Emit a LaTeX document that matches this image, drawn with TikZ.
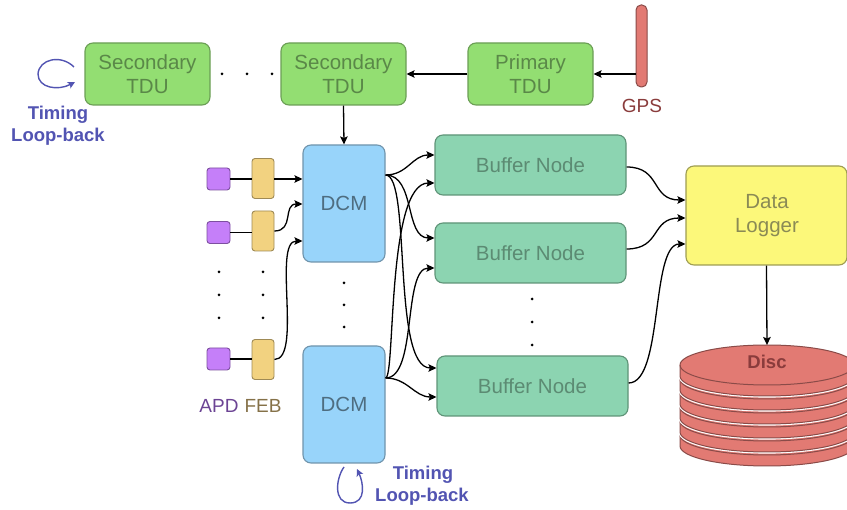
\documentclass[tikz,border=0pt]{standalone}
\usepackage{fontspec}
\setmainfont{Liberation Sans}
\usetikzlibrary{arrows.meta}
\definecolor{tdufill}{HTML}{93DE72}
\definecolor{tduborder}{HTML}{6B9E55}
\definecolor{tdutext}{HTML}{5A8848}
\definecolor{dcmfill}{HTML}{98D4FA}
\definecolor{dcmborder}{HTML}{7094AC}
\definecolor{dcmtext}{HTML}{4E6D80}
\definecolor{bnfill}{HTML}{8CD4B1}
\definecolor{bnborder}{HTML}{5F9478}
\definecolor{bntext}{HTML}{5C8B73}
\definecolor{dlfill}{HTML}{FCF87A}
\definecolor{dlborder}{HTML}{9E9D52}
\definecolor{dltext}{HTML}{8A8A55}
\definecolor{apdfill}{HTML}{C57FF9}
\definecolor{apdborder}{HTML}{7D4FA0}
\definecolor{febfill}{HTML}{F2D280}
\definecolor{febborder}{HTML}{9F8A55}
\definecolor{redfill}{HTML}{E27A73}
\definecolor{redborder}{HTML}{8A4B48}
\definecolor{redtext}{HTML}{8A3C3C}
\definecolor{loopc}{HTML}{5254B2}
\definecolor{apdtext}{HTML}{6C4494}
\definecolor{febtext}{HTML}{857148}
\tikzset{
  box/.style={draw, rounded corners=8pt, line width=1.1pt, inner sep=0pt,
    font=\fontsize{20.5}{23.5}\selectfont, align=center},
  tdu/.style={box, fill=tdufill, draw=tduborder, text=tdutext, minimum width=125pt, minimum height=62pt},
  dcm/.style={box, fill=dcmfill, draw=dcmborder, text=dcmtext, minimum width=82pt, minimum height=117pt},
  bn/.style={box, fill=bnfill, draw=bnborder, text=bntext, minimum width=191pt, minimum height=60pt},
  dl/.style={box, fill=dlfill, draw=dlborder, text=dltext, minimum width=161pt, minimum height=99pt},
  dltxt/.style={font=\fontsize{20.5}{24}\selectfont, align=center, text=dltext, inner sep=0pt},
  apd/.style={draw=apdborder, fill=apdfill, rounded corners=3pt, line width=0.9pt, minimum width=23pt, minimum height=22pt, inner sep=0pt},
  feb/.style={draw=febborder, fill=febfill, rounded corners=3pt, line width=0.9pt, minimum width=22pt, minimum height=40pt, inner sep=0pt},
  gpsbar/.style={draw=redborder, fill=redfill, rounded corners=5pt, line width=1pt, minimum width=11pt, minimum height=82pt, inner sep=0pt},
  lbl/.style={font=\fontsize{19}{22}\selectfont, inner sep=0pt},
  looptxt/.style={font=\fontsize{18.5}{22}\selectfont\bfseries, text=loopc, inner sep=0pt},
  arr/.style={-{Stealth[length=8pt,width=7.5pt,inset=1.5pt]}, line width=1.3pt},
  ln/.style={line width=1.3pt},
  looparr/.style={-{Stealth[length=7pt,width=7pt,inset=1.5pt]}, line width=1.4pt, draw=loopc},
  dot/.style={circle, fill=black, inner sep=0pt, minimum size=3pt},
  discbody/.style={fill=redfill, draw=redborder, line width=1pt, preaction={draw=white, line width=3.2pt}},
}
\begin{document}
\begin{tikzpicture}[x=1pt,y=1pt]
\clip (0,0) rectangle (847,-510);
% y levels
\coordinate (y155) at (0,-155);
\coordinate (y175) at (0,-175);
\coordinate (y183) at (0,-183);
\coordinate (y200) at (0,-200);
\coordinate (y204) at (0,-204);
\coordinate (y218) at (0,-218);
\coordinate (y238) at (0,-238);
\coordinate (y241) at (0,-241);
\coordinate (y244) at (0,-244);
\coordinate (y249) at (0,-249);
\coordinate (y167) at (0,-167);
\coordinate (y268) at (0,-268);
\coordinate (y368) at (0,-368);
\coordinate (y378) at (0,-378);
\coordinate (y383) at (0,-383);
\coordinate (y397) at (0,-397);

% TDUs and GPS
\node[tdu] (st1) at (147.5,-74) {Secondary\\TDU};
\node[tdu] (st2) at (343.5,-74) {Secondary\\TDU};
\node[tdu] (pt) at (530.5,-74) {Primary\\TDU};
\node[gpsbar] (gps) at (641.5,-46) {};
\node[lbl, text=redtext] (gpsl) at (642,-106) {GPS};
\node[dot] (td1) at (222,-74) {};
\node[dot] (td2) at (247,-74) {};
\node[dot] (td3) at (272,-74) {};
\draw[arr] (gps.west |- pt.east) -- (pt.east);
\draw[arr] (pt.west) -- (st2.east);

% timing loop-back (top left)
\coordinate (la) at (74,-67);
\coordinate (lb) at (75,-82);
\draw[looparr] (la) .. controls (61,-54) and (39,-59) .. (38,-74) .. controls (38,-88) and (58,-91) .. (lb);
\node[looptxt] (lt1) at (58,-115) {Timing};
\node[looptxt] (lt2) at (58,-137) {Loop-back};

% DCMs
\node[dcm] (dcm1) at (344,-203.5) {DCM};
\node[dcm] (dcm2) at (344,-404.5) {DCM};
\node[dot] (dd1) at (344,-283) {};
\node[dot] (dd2) at (344,-305) {};
\node[dot] (dd3) at (344,-327) {};
\draw[arr] (st2.south) -- (dcm1.north);

% bottom loop-back
\coordinate (lc) at (344,-467);
\coordinate (ld) at (357,-469);
\draw[looparr] (lc) .. controls (336,-478) and (333,-503) .. (350,-503) .. controls (367,-503) and (363,-482) .. (ld);
\node[looptxt] (lt3) at (423,-475) {Timing};
\node[looptxt] (lt4) at (422,-497) {Loop-back};

% APDs and FEBs
\node[apd] (apd1) at (218.5,-179) {};
\node[apd] (apd2) at (218.5,-232.5) {};
\node[apd] (apd3) at (218.5,-359) {};
\node[feb] (feb1) at (263,-178.5) {};
\node[feb] (feb2) at (263,-231) {};
\node[feb] (feb3) at (263,-359.5) {};
\node[lbl, text=apdtext] (apdl) at (219,-406) {APD};
\node[lbl, text=febtext] (febl) at (263,-406) {FEB};
\foreach \yy/\nm in {272/a,295/b,318/c}{
  \node[dot] (ad\nm) at (219,-\yy) {};
  \node[dot] (fd\nm) at (263,-\yy) {};
}
\draw[ln] (apd1.east) -- (apd1.east -| feb1.west);
\draw[ln] (apd2.east) -- (apd2.east -| feb2.west);
\draw[ln] (apd3.east) -- (apd3.east -| feb3.west);
\draw[arr] (apd1.east -| feb1.east) -- (apd1.east -| dcm1.west);
\draw[arr] (feb2.east) .. controls +(20,0) and +(-20,0) .. (dcm1.west |- y204);
\draw[arr] (feb3.east) .. controls +(28,0) and +(-30,0) .. (dcm1.west |- y241);

% Buffer nodes
\node[bn] (bn1) at (530.5,-165) {Buffer Node};
\node[bn] (bn2) at (530.5,-253) {Buffer Node};
\node[bn] (bn3) at (532.5,-386) {Buffer Node};
\node[dot] (bd1) at (532,-299) {};
\node[dot] (bd2) at (532,-322) {};
\node[dot] (bd3) at (532,-345) {};

\coordinate (o1) at (dcm1.east |- y175);
\coordinate (o2) at (dcm2.east |- y378);
\draw[arr] (o1) .. controls +(22,0) and +(-22,0) .. (bn1.west |- y155);
\draw[arr] (o1) .. controls +(30,0) and +(-30,0) .. (bn2.west |- y238);
\draw[arr] (o1) .. controls +(26,0) and +(-45,0) .. (bn3.west |- y368);
\draw[arr] (o2) .. controls +(10,0) and +(-48,0) .. (bn1.west |- y183);
\draw[arr] (o2) .. controls +(32,0) and +(-32,0) .. (bn2.west |- y268);
\draw[arr] (o2) .. controls +(22,0) and +(-22,0) .. (bn3.west |- y397);

% Data logger
\node[dl] (dl) at (766.5,-215.5) {};
\node[dltxt] (dlt) at (767,-216) {Data\\Logger};
\draw[arr] (bn1.east |- y167) .. controls +(35,0) and +(-35,0) .. (dl.west |- y200);
\draw[arr] (bn2.east |- y249) .. controls +(35,0) and +(-35,0) .. (dl.west |- y218);
\draw[arr] (bn3.east |- y383) .. controls +(35,0) and +(-35,0) .. (dl.west |- y244);

% Disc stack
\foreach \i in {5,4,3,2,1,0}{
  \pgfmathsetmacro{\yt}{-365-14*\i}
  \pgfmathsetmacro{\yb}{\yt-11}
  \path[discbody] (680,\yt) -- (680,\yb) arc[start angle=180,end angle=360,x radius=87,y radius=20]
     -- (854,\yt) arc[start angle=0,end angle=180,x radius=87,y radius=20] -- cycle;
  \draw[redborder, line width=1pt] (680,\yt) arc[start angle=180,end angle=360,x radius=87,y radius=20];
}
\node[font=\fontsize{18.5}{22}\selectfont\bfseries, text=redtext, inner sep=0pt] (disc) at (767,-362) {Disc};
\coordinate (disctop) at (767,-345);
\draw[arr] (dl.south) -- (disctop);
\end{tikzpicture}
\end{document}
